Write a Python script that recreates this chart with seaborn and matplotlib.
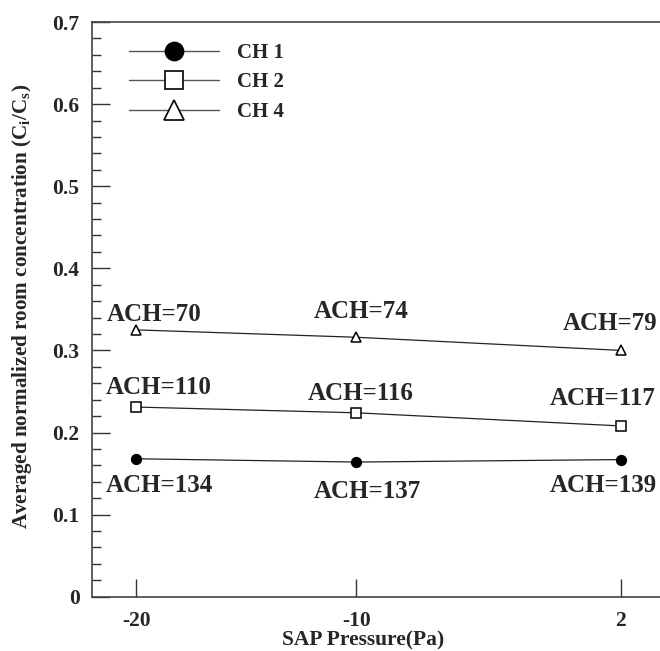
import numpy as np
import pandas as pd
import matplotlib
matplotlib.use("Agg")
import matplotlib.pyplot as plt
from matplotlib.lines import Line2D
from matplotlib.ticker import MultipleLocator
import seaborn as sns

sns.set_style("white")
plt.rcParams['font.family'] = ['Liberation Serif', 'DejaVu Serif']
plt.rcParams['font.weight'] = 'bold'
plt.rcParams['mathtext.fontset'] = 'custom'
plt.rcParams['mathtext.rm'] = 'Liberation Serif:bold'
plt.rcParams['mathtext.it'] = 'Liberation Serif:bold'
plt.rcParams['mathtext.bf'] = 'Liberation Serif:bold'

# ---- data ----
pressure = [-20, -10, 2]
series_names = ["CH 1", "CH 2", "CH 4"]
ch1 = [0.168, 0.164, 0.167]
ch2 = [0.231, 0.224, 0.208]
ch4 = [0.325, 0.316, 0.300]
ach_ch1 = ["ACH=134", "ACH=137", "ACH=139"]
ach_ch2 = ["ACH=110", "ACH=116", "ACH=117"]
ach_ch4 = ["ACH=70", "ACH=74", "ACH=79"]
y_ticks = [0, 0.1, 0.2, 0.3, 0.4, 0.5, 0.6, 0.7]
y_tick_labels = ["0", "0.1", "0.2", "0.3", "0.4", "0.5", "0.6", "0.7"]

fig = plt.figure(figsize=(6.6, 6.51), dpi=100)
ax = fig.add_axes([92/660, 1-596.7/651, 1-92/660, (596.7-22)/651])

line_color = "#222222"
styles = [
    dict(marker="o", mfc="black", ms=7),
    dict(marker="s", mfc="white", ms=6.5),
    dict(marker="^", mfc="white", ms=6.5),
]
data = [ch1, ch2, ch4]
for vals, st in zip(data, styles):
    df = pd.DataFrame({"p": pressure, "c": vals})
    sns.lineplot(data=df, x="p", y="c", ax=ax, color=line_color, lw=0.9,
                 marker=st["marker"], markersize=st["ms"],
                 markerfacecolor=st["mfc"], markeredgecolor="black",
                 markeredgewidth=1.1, legend=False)

# annotation positions (x centre, baseline y)
ann = [
    (ach_ch4, [(-19.2, 0.336), (-9.8, 0.339), (1.5, 0.325)]),
    (ach_ch2, [(-18.96, 0.2465), (-9.8, 0.2396), (1.2, 0.2335)]),
    (ach_ch1, [(-18.96, 0.1271), (-9.5, 0.1198), (1.2, 0.128)]),
]
for labels, pos in ann:
    for lab, (xx, yy) in zip(labels, pos):
        ax.text(xx, yy, lab, ha="center", va="baseline", fontsize=18,
                fontweight="bold")

ax.set_xlim(-22, 3.78)
ax.set_ylim(0, 0.7)
ax.set_xticks(pressure)
ax.set_xticklabels([str(p) for p in pressure])
ax.set_yticks(y_ticks)
ax.set_yticklabels(y_tick_labels)
ax.yaxis.set_minor_locator(MultipleLocator(0.02))
ax.tick_params(axis="y", which="major", direction="in", length=13, width=1,
               color="#333333", labelsize=15.5, pad=9, left=True)
ax.tick_params(axis="y", which="minor", direction="in", length=6.5, width=1,
               color="#333333", left=True)
ax.tick_params(axis="x", which="major", direction="in", length=13, width=1,
               color="#333333", labelsize=15.5, pad=10, bottom=True)
for lab in ax.get_xticklabels() + ax.get_yticklabels():
    lab.set_fontweight("bold")

for side in ["left", "bottom", "top"]:
    ax.spines[side].set_color("#444444")
    ax.spines[side].set_linewidth(1.2)
ax.spines["right"].set_visible(False)

ax.set_xlabel("SAP Pressure(Pa)", fontsize=15.5, fontweight="bold",
              va="bottom")
ax.set_ylabel(r"Averaged normalized room concentration (C$_i$/C$_s$)",
              fontsize=15.2, fontweight="bold")
ax.xaxis.set_label_coords((363-92)/(660-92), (596.7-650)/574.7)
ax.yaxis.set_label_coords(-0.102, 0.506)

handles = [Line2D([0], [0], color="#555555", lw=1, marker=st["marker"],
                  markersize=13 if st["marker"] != "^" else 14,
                  markerfacecolor=st["mfc"], markeredgecolor="black",
                  markeredgewidth=1.2) for st in styles]
leg = ax.legend(handles, series_names, loc="upper left",
                bbox_to_anchor=(0.032, 0.996), frameon=False,
                prop={"family": "Liberation Serif", "weight": "bold", "size": 15},
                handlelength=4.3, handletextpad=0.9, labelspacing=0.45)

fig.savefig("out.png", dpi=100, facecolor="white")
